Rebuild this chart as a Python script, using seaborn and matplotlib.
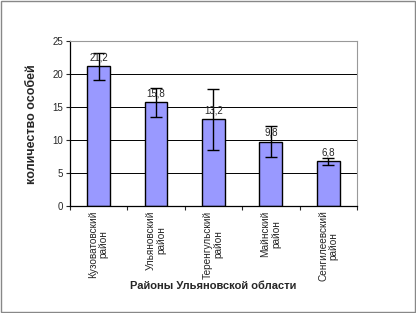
import pandas as pd
import matplotlib
matplotlib.use('Agg')
import matplotlib.pyplot as plt
import seaborn as sns
from matplotlib.ticker import FixedLocator

sns.set_style('white')
plt.rcParams['font.family'] = ['Liberation Sans', 'DejaVu Sans']

# Data
districts = ['Кузоватовский\nрайон', 'Ульяновский\nрайон', 'Теренгульский\nрайон',
             'Майнский\nрайон', 'Сенгилеевский\nрайон']
counts = [21.2, 15.8, 13.2, 9.8, 6.8]
errors = [2.1, 2.2, 4.6, 2.3, 0.55]
labels = ['21,2', '15,8', '13,2', '9,8', '6,8']

df = pd.DataFrame({'district': districts, 'count': counts})

fig = plt.figure(figsize=(4.16, 3.13), dpi=100)
ax = fig.add_axes([0.168, 0.341, 0.690, 0.527])

ax.yaxis.grid(True, color='black', linewidth=0.7)
ax.set_axisbelow(True)
sns.barplot(x='district', y='count', data=df, color='#9999ff', edgecolor='black',
            linewidth=1.0, width=0.4, saturation=1, ax=ax)
ax.errorbar(range(len(counts)), counts, yerr=errors, fmt='none', ecolor='black',
            elinewidth=1.0, capsize=4, capthick=1.0)

for i, (v, t) in enumerate(zip(counts, labels)):
    ax.text(i, v + 0.6, t, ha='center', va='bottom', fontsize=7)

ax.set_ylim(0, 25)
ax.set_xlim(-0.5, 4.5)
ax.set_yticks([0, 5, 10, 15, 20, 25])
ax.tick_params(axis='y', labelsize=7, length=3, width=0.8, left=True, pad=2)
ax.tick_params(axis='x', which='major', labelsize=7.2, length=0, rotation=90, pad=3)
for lab in ax.get_xticklabels():
    lab.set_linespacing(1.05)
ax.xaxis.set_minor_locator(FixedLocator([-0.5, 0.5, 1.5, 2.5, 3.5, 4.5]))
ax.tick_params(axis='x', which='minor', length=3, width=0.8, bottom=True)

for s in ['left', 'bottom']:
    ax.spines[s].set_color('black')
    ax.spines[s].set_linewidth(0.9)
for s in ['top', 'right']:
    ax.spines[s].set_color('#999999')
    ax.spines[s].set_linewidth(0.8)

ax.set_xlabel('Районы Ульяновской области', fontsize=8, fontweight='bold')
ax.xaxis.set_label_coords(0.5, -0.455)
ax.set_ylabel('количество особей', fontsize=9, fontweight='bold', labelpad=10)

# outer border of the chart area
fig.patches.append(plt.Rectangle((0.002, 0.003), 0.995, 0.993, transform=fig.transFigure,
                                 fill=False, edgecolor='#888888', linewidth=1.0))

fig.savefig('out.png', dpi=100)
